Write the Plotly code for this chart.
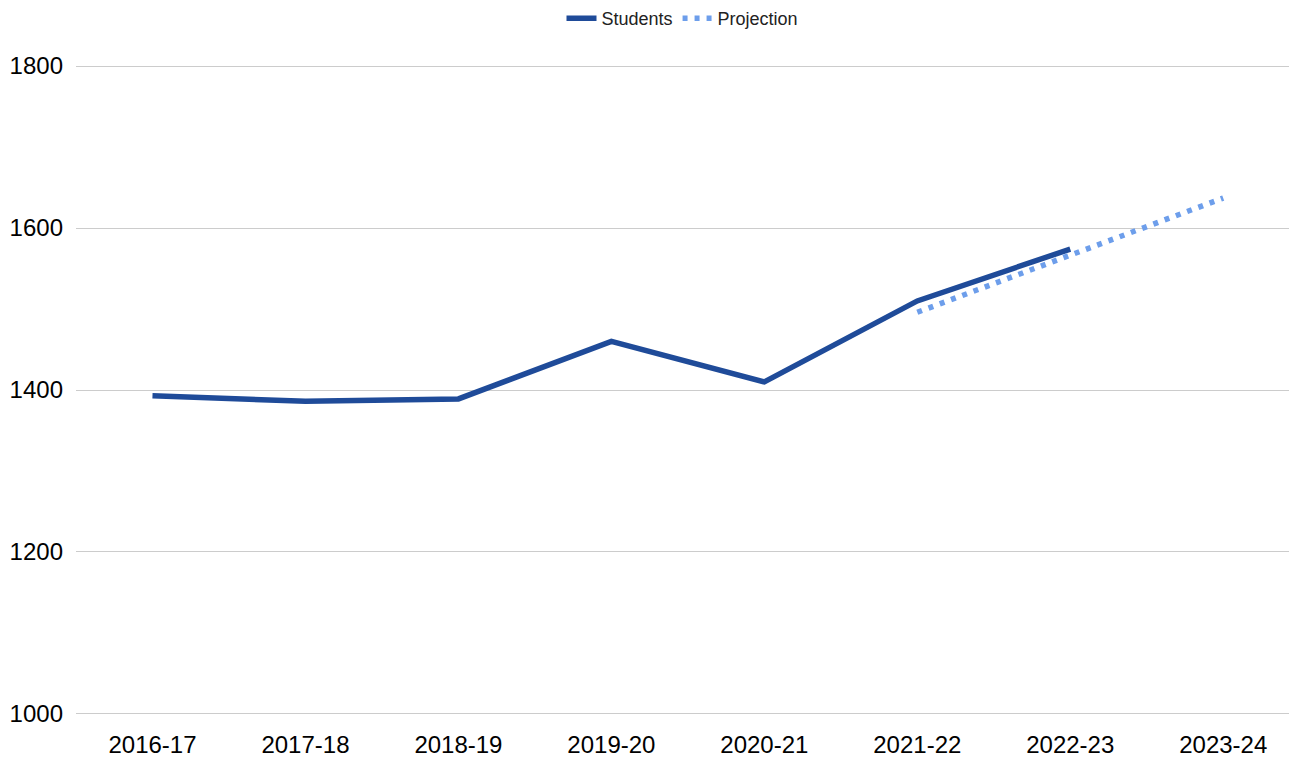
import plotly.graph_objects as go

# School years on the category axis
years = ["2016-17", "2017-18", "2018-19", "2019-20", "2020-21", "2021-22", "2022-23", "2023-24"]

# Enrolled students per year
students = [1393, 1386, 1389, 1460, 1410, 1510, 1574, None]

# Projected enrolment from 2021-22 onward
projection = [None, None, None, None, None, 1496, 1567, 1637]

y_ticks = [1000, 1200, 1400, 1600, 1800]

fig = go.Figure()
fig.add_trace(go.Scatter(
    x=years, y=students, name="Students", mode="lines",
    line=dict(color="#1f4b99", width=5.5),
    connectgaps=False,
))
fig.add_trace(go.Scatter(
    x=years, y=projection, name="Projection", mode="lines",
    line=dict(color="#6d9eeb", width=5.5, dash="5px,7px"),
    connectgaps=False,
))

fig.update_layout(
    width=1289, height=757,
    margin=dict(l=76, r=0, t=62, b=39),
    paper_bgcolor="white", plot_bgcolor="white",
    font=dict(family="Liberation Sans, Arial, sans-serif", color="#000000"),
    legend=dict(
        orientation="h", x=0.5, xanchor="center", xref="paper",
        y=1.0, yanchor="top", yref="container",
        font=dict(size=18, color="#222222"), itemwidth=30,
    ),
    showlegend=True,
)
fig.update_xaxes(
    type="category", range=[-0.5, 7.43],
    showgrid=False, showline=False, zeroline=False,
    tickfont=dict(size=24), ticks="", ticklabelstandoff=10,
)
fig.update_yaxes(
    range=[995, 1805], tickvals=y_ticks,
    showgrid=True, gridcolor="#cccccc", gridwidth=1,
    showline=False, zeroline=False,
    tickfont=dict(size=24), ticks="", ticklabelstandoff=12,
)

fig.write_html("out.html")
